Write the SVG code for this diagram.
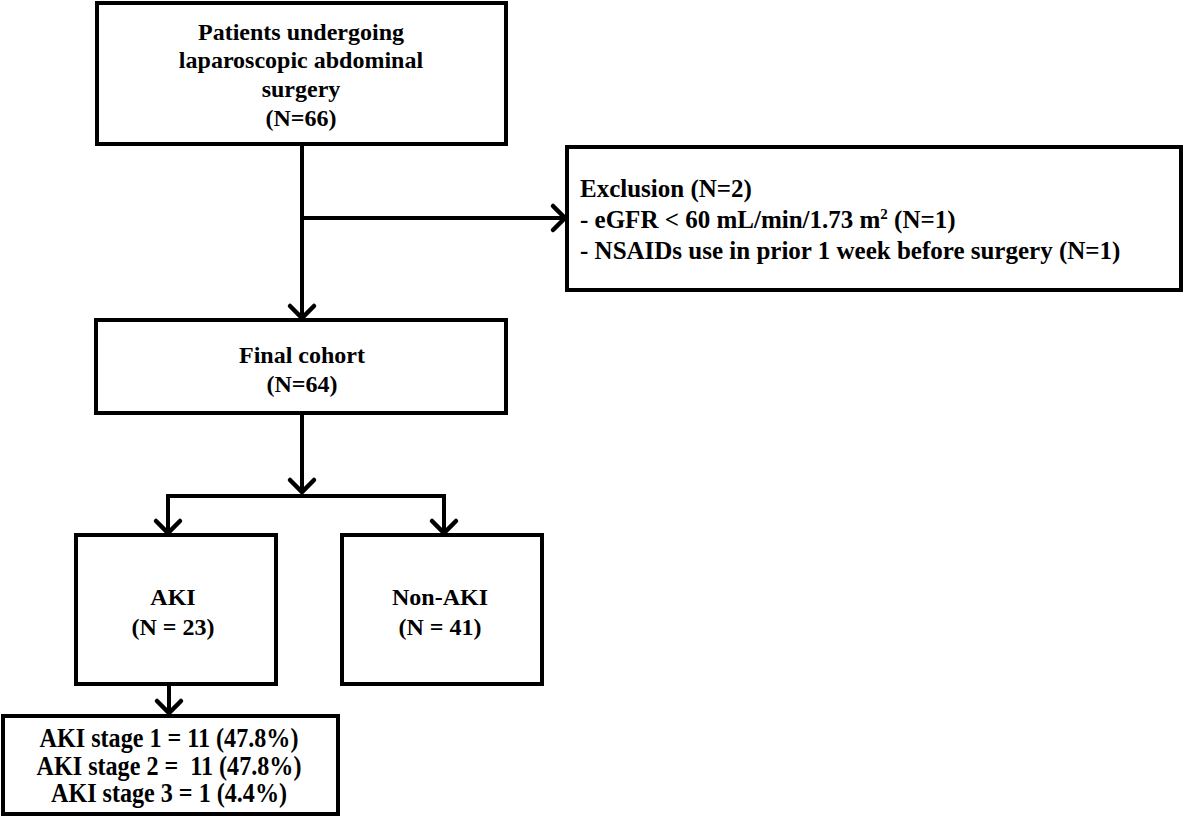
<svg xmlns="http://www.w3.org/2000/svg" width="1184" height="817" viewBox="0 0 1184 817">
<style>
.box{fill:#fff;stroke:#000;stroke-width:4}
.t{font-family:"Liberation Serif","Times New Roman",serif;font-weight:bold;font-size:24px;fill:#000;white-space:pre}
.c{text-anchor:middle}
.ex{font-size:25px}
.st{font-size:26.5px}
.sup{font-size:15px}
.ln{fill:none;stroke:#000;stroke-width:4}
</style>
<defs>
<marker id="ah" markerUnits="userSpaceOnUse" markerWidth="30" markerHeight="30" refX="15" refY="15" orient="auto" overflow="visible">
<path d="M3,3 L15,15 L3,27" fill="none" stroke="#000" stroke-width="4.5" stroke-linecap="round" stroke-linejoin="miter"/>
</marker>
</defs>
<rect width="1184" height="817" fill="#fff"/>
<g id="connectors">
<path class="ln" d="M302,145 V318" marker-end="url(#ah)"/>
<path class="ln" d="M302,218 H565" marker-end="url(#ah)"/>
<path class="ln" d="M302,413 V492" marker-end="url(#ah)"/>
<path class="ln" d="M168,533 V496 H444 V533" />
<path class="ln" d="M168,496 V533" marker-end="url(#ah)"/>
<path class="ln" d="M444,496 V533" marker-end="url(#ah)"/>
<path class="ln" d="M169,684 V713" marker-end="url(#ah)"/>
</g>
<g id="n1">
<rect class="box" x="97" y="3" width="409" height="141"/>
<text class="t c" x="301" y="40">Patients undergoing</text>
<text class="t c" x="301" y="68">laparoscopic abdominal</text>
<text class="t c" x="301" y="97">surgery</text>
<text class="t c" x="301" y="126">(N=66)</text>
</g>
<g id="exclusion">
<rect class="box" x="567" y="147" width="614" height="143"/>
<text class="t ex" x="580" y="197">Exclusion (N=2)</text>
<text class="t ex" x="580" y="228">- eGFR &lt; 60 mL/min/1.73 m<tspan class="sup" dy="-9">2</tspan><tspan dy="9"> (N=1)</tspan></text>
<text class="t ex" x="580" y="259">- NSAIDs use in prior 1 week before surgery (N=1)</text>
</g>
<g id="final">
<rect class="box" x="96" y="320" width="410" height="93"/>
<text class="t c" x="302" y="363">Final cohort</text>
<text class="t c" x="302" y="392">(N=64)</text>
</g>
<g id="aki">
<rect class="box" x="76" y="535" width="200" height="149"/>
<text class="t c" x="173" y="605">AKI</text>
<text class="t c" x="173" y="635">(N = 23)</text>
</g>
<g id="nonaki">
<rect class="box" x="342" y="535" width="200" height="149"/>
<text class="t c" x="440" y="605">Non-AKI</text>
<text class="t c" x="440" y="635">(N = 41)</text>
</g>
<g id="stages">
<rect class="box" x="3" y="716" width="335" height="98" stroke-width="5"/>
<text class="t c st" x="0" y="747" transform="translate(169,0) scale(0.91,1)">AKI stage 1 = 11 (47.8%)</text>
<text class="t c st" x="0" y="775" transform="translate(169,0) scale(0.91,1)">AKI stage 2 =  11 (47.8%)</text>
<text class="t c st" x="0" y="802" transform="translate(169,0) scale(0.91,1)">AKI stage 3 = 1 (4.4%)</text>
</g>
</svg>
